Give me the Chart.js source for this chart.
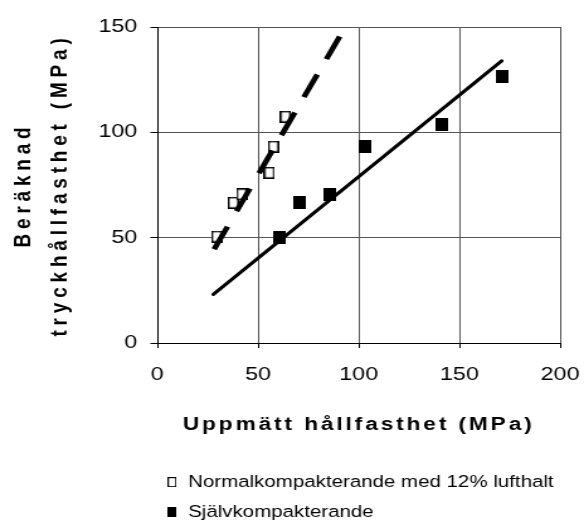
<!DOCTYPE html>
<html>
<head>
<meta charset="utf-8">
<script src="https://cdn.jsdelivr.net/npm/chart.js@4/dist/chart.umd.min.js"></script>
<style>
  html, body { margin: 0; padding: 0; background: #fff; }
</style>
</head>
<body>
<!-- the original picture is stretched sideways, so the canvas is too -->
<canvas id="c" width="464" height="524" style="display:block;width:584px;height:524px"></canvas>
<script>
const seriesLabels = ['Normalkompakterande med 12% lufthalt', 'Självkompakterande'];

const normalX = [29.5, 37.7, 41.9, 55.6, 57.6, 63.6];
const normalY = [50.5, 66.6, 70.6, 80.8, 93.2, 107.4];
const selfX = [60.6, 70.5, 85.4, 103.3, 141.2, 171];
const selfY = [50.2, 66.6, 70.3, 93.2, 103.6, 126.4];

// trend lines (end points)
const normalFitX = [28.2, 90.7];
const normalFitY = [44.5, 145.7];
const selfFitX = [27.8, 171];
const selfFitY = [23.1, 133.9];

const xTicks = [0, 50, 100, 150, 200];
const yTicks = [0, 50, 100, 150];

const xTitle = 'Uppmätt hållfasthet (MPa)';
const yTitle = ['Beräknad', 'tryckhållfasthet (MPa)'];

const FONT = "'Liberation Sans', Arial, sans-serif";
const toPts = (xs, ys) => xs.map((x, i) => ({x: x, y: ys[i]}));

function box(w, h, filled, lw) {
    const c = document.createElement('canvas');
    c.width = w;
    c.height = h;
    const g = c.getContext('2d');
    g.fillStyle = '#000';
    g.fillRect(0, 0, w, h);
    if (!filled) {
        g.fillStyle = '#fff';
        g.fillRect(lw, lw, w - 2 * lw, h - 2 * lw);
    }
    return c;
}

const plotMarks = [box(9, 12, false, 1.5), box(10, 13, true)];
const legendMarks = [box(7, 10, false, 1), box(7, 10, true)];

// wider letters in the axis titles, like the original
const titleSpacing = {x: 2.3, y: 4.8};
const legendShift = -6.75;

const spacedTitles = {
    id: 'spacedTitles',
    beforeDraw(chart) {
        Object.keys(titleSpacing).forEach(id => {
            const scale = chart.scales[id];
            if (scale.drawTitle.spaced) return;
            const orig = scale.drawTitle;
            scale.drawTitle = function () {
                this.ctx.save();
                this.ctx.letterSpacing = titleSpacing[id] + 'px';
                orig.call(this);
                this.ctx.restore();
            };
            scale.drawTitle.spaced = true;
        });
    },
    afterLayout(chart) {
        const lg = chart.legend;
        lg.left = chart.chartArea.left + legendShift;
        lg.right = chart.width;
        lg.width = lg.right - lg.left;
    }
};

const ctx = document.getElementById('c').getContext('2d');
const chart = new Chart(ctx, {
    type: 'scatter',
    data: {
        datasets: [
            {
                label: seriesLabels[0],
                data: toPts(normalX, normalY),
                pointStyle: plotMarks[0],
                pointRadius: 6,
                order: 2
            },
            {
                label: seriesLabels[1],
                data: toPts(selfX, selfY),
                pointStyle: plotMarks[1],
                pointRadius: 6,
                order: 2
            },
            {
                type: 'line',
                label: 'fit1',
                data: toPts(normalFitX, normalFitY),
                borderColor: '#000',
                borderWidth: 4.5,
                borderDash: [25, 17],
                pointRadius: 0,
                fill: false,
                order: 1
            },
            {
                type: 'line',
                label: 'fit2',
                data: toPts(selfFitX, selfFitY),
                borderColor: '#000',
                borderWidth: 3,
                borderCapStyle: 'round',
                pointRadius: 0,
                fill: false,
                order: 1
            }
        ]
    },
    options: {
        responsive: false,
        animation: false,
        devicePixelRatio: 1,
        layout: {padding: {top: 27, right: 19, bottom: 0, left: 0}},
        scales: {
            x: {
                type: 'linear',
                min: xTicks[0],
                max: xTicks[xTicks.length - 1],
                afterFit: s => {
                    s.height = 117;
                    s.paddingLeft = 16;
                    s.paddingRight = 16;
                },
                ticks: {
                    stepSize: xTicks[1] - xTicks[0],
                    padding: 16,
                    color: '#000',
                    font: {family: FONT, size: 18.5}
                },
                grid: {color: '#555', tickColor: '#000', tickLength: 5},
                border: {color: '#000', width: 1},
                title: {
                    display: true,
                    text: xTitle,
                    color: '#000',
                    font: {family: FONT, size: 18, weight: 'bold'},
                    padding: {top: 0, bottom: 24}
                }
            },
            y: {
                type: 'linear',
                min: yTicks[0],
                max: yTicks[yTicks.length - 1],
                afterFit: s => { s.width = 125; },
                ticks: {
                    stepSize: yTicks[1] - yTicks[0],
                    padding: 10.5,
                    color: '#000',
                    font: {family: FONT, size: 18.5}
                },
                grid: {color: '#555', tickColor: '#000', tickLength: 5.5},
                border: {color: '#000', width: 1},
                title: {
                    display: true,
                    text: yTitle,
                    color: '#000',
                    font: {family: FONT, size: 19, weight: 'bold', lineHeight: 1.505},
                    padding: {top: 4.6, bottom: 0}
                }
            }
        },
        plugins: {
            tooltip: {enabled: false},
            legend: {
                display: true,
                position: 'bottom',
                align: 'start',
                fullSize: false,
                maxHeight: 64,
                labels: {
                    usePointStyle: true,
                    boxWidth: 9,
                    boxHeight: 9,
                    padding: 14,
                    color: '#000',
                    font: {family: FONT, size: 16.3},
                    filter: item => item.datasetIndex < 2,
                    generateLabels: c => Chart.defaults.plugins.legend.labels.generateLabels(c).map(item => {
                        if (item.datasetIndex < 2) item.pointStyle = legendMarks[item.datasetIndex];
                        return item;
                    })
                }
            }
        }
    },
    plugins: [spacedTitles]
});
</script>
</body>
</html>
